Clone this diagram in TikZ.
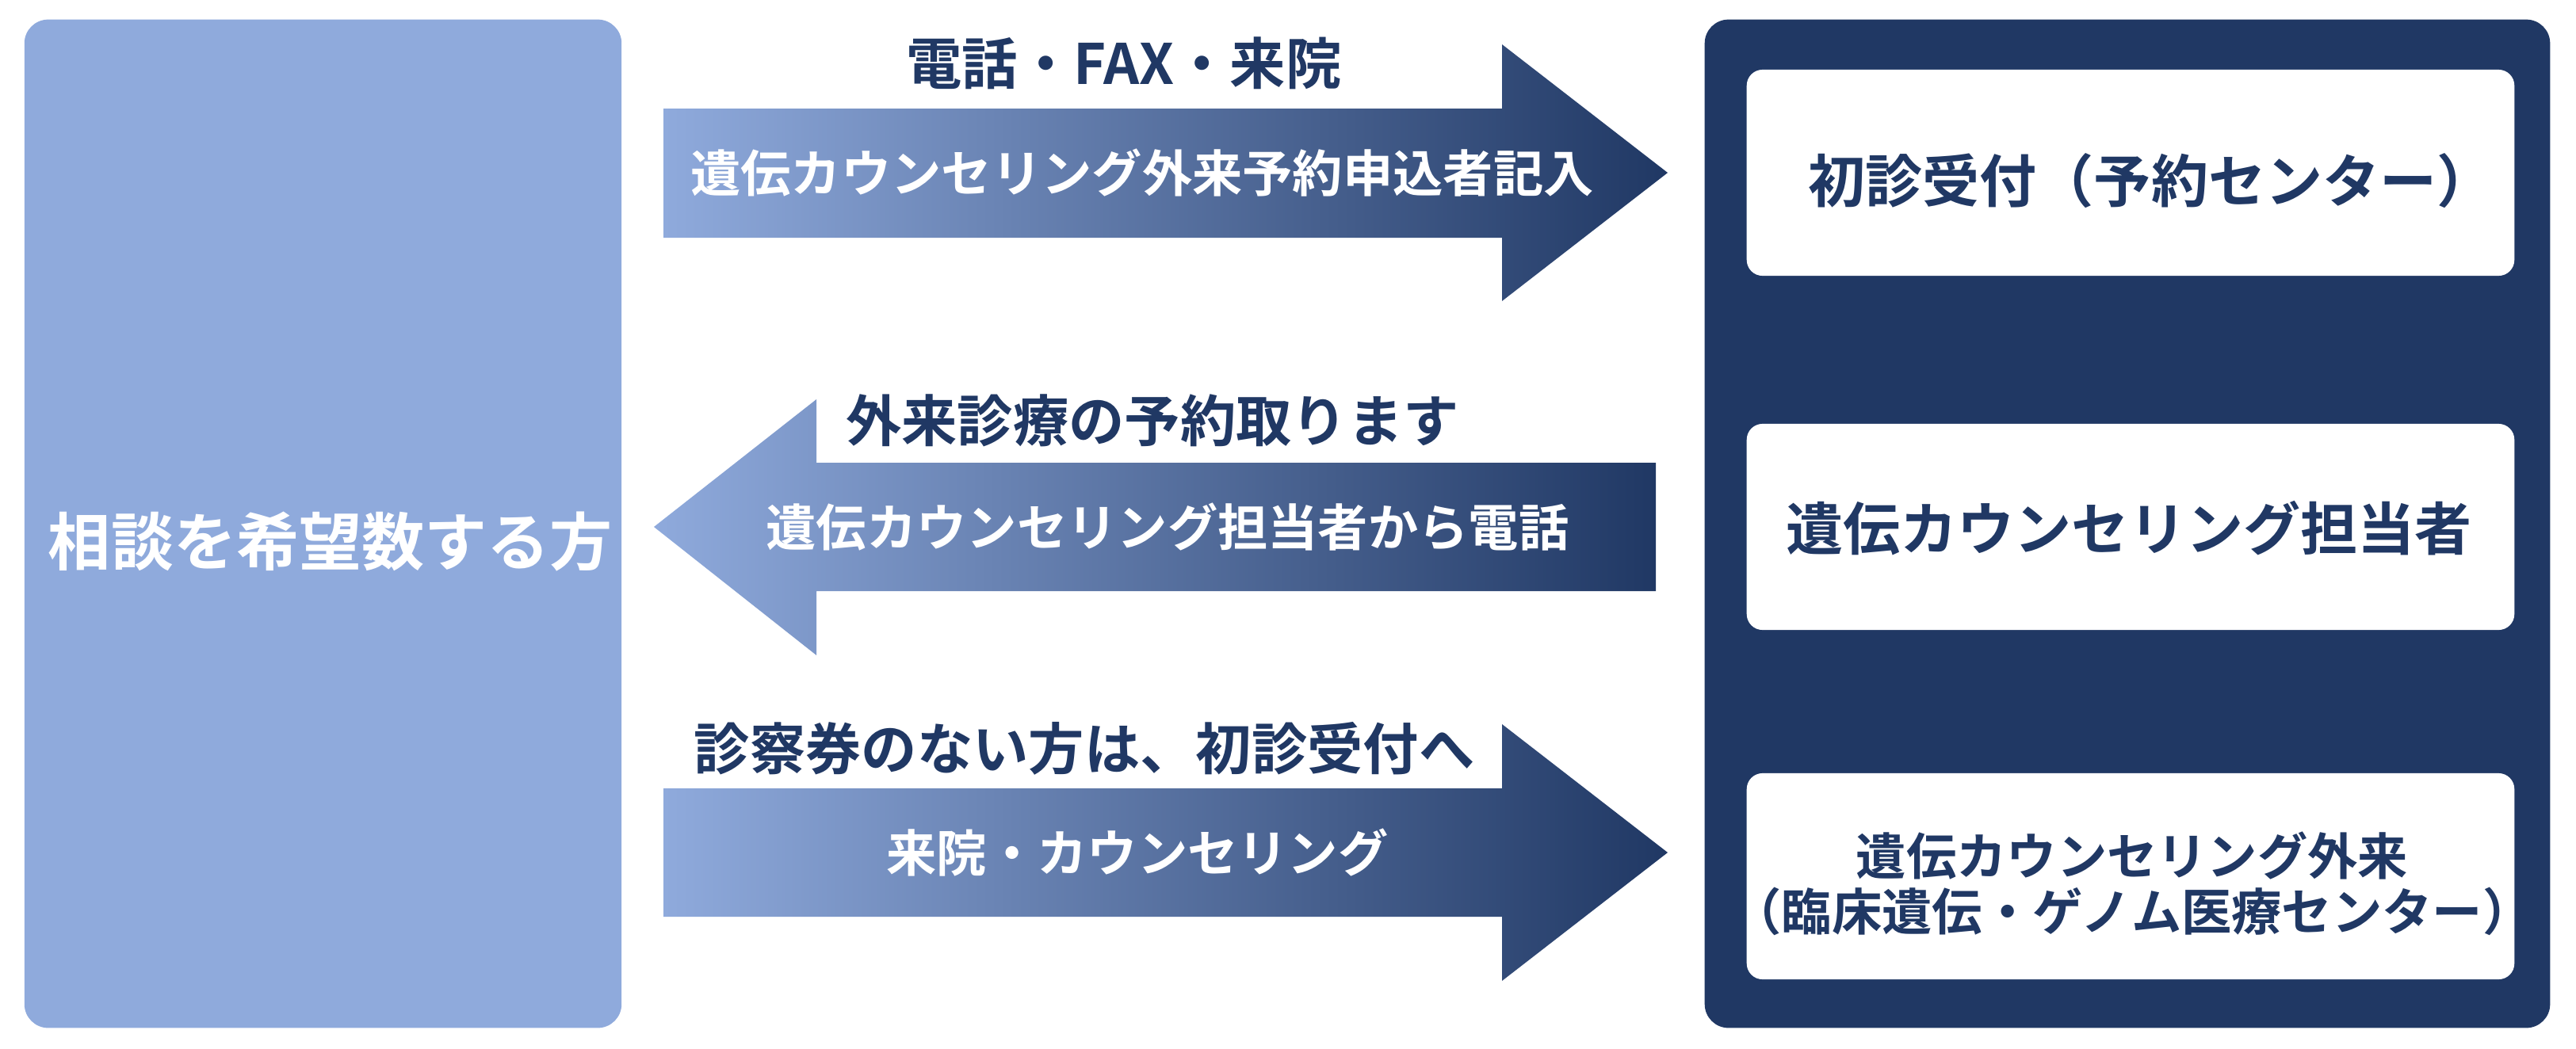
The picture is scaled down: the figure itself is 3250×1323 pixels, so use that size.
\documentclass[tikz,border=0pt]{standalone}
\usepackage{fontspec}
\newfontfamily\jpfont[BoldFont={Noto Sans CJK JP Bold}]{Noto Sans CJK JP}
\definecolor{paleblue}{HTML}{8FAADC}
\definecolor{navyblue}{HTML}{203864}

\tikzset{
    panel/.style={rounded corners=0.3cm, inner sep=0pt},
    whitebox/.style={fill=white, rounded corners=0.2cm, inner sep=0pt,
        minimum width=9.68cm, minimum height=2.6cm},
    flowarrow/.style={left color=paleblue, right color=navyblue},
    labeltext/.style={text=navyblue, inner sep=0pt,
        font=\jpfont\bfseries\fontsize{20}{24}\selectfont},
    arrowtext/.style={text=white, inner sep=0pt,
        font=\jpfont\bfseries\fontsize{18}{22}\selectfont},
    boxtext/.style={text=navyblue, inner sep=0pt, align=center,
        font=\jpfont\bfseries\fontsize{20.5}{24}\selectfont}
}

\begin{document}
\begin{tikzpicture}[x=0.01cm, y=-0.01cm]
    \useasboundingbox (0,0) rectangle (3250,1323);

    \node[panel, fill=paleblue, minimum width=7.53cm, minimum height=12.72cm] (client) at (407.5,661) {};
    \node[text=white, inner sep=0pt, font=\jpfont\bfseries\fontsize{22.5}{27}\selectfont] (clientlabel) at (417,684) {相談を希望数する方};

    \node[panel, fill=navyblue, minimum width=10.66cm, minimum height=12.72cm] (clinic) at (2684,661) {};
    \node[whitebox] (reception) at (2688,218) {};
    \node[whitebox] (counselor) at (2688,665) {};
    \node[whitebox] (outpatient) at (2688,1106) {};

    \node[boxtext] (receptionlabel) at (2714,228) {初診受付（予約センター）};
    \node[boxtext] (counselorlabel) at (2686,667) {遺伝カウンセリング担当者};
    \node[boxtext, font=\jpfont\bfseries\fontsize{18}{20}\selectfont] (outpatientlabel) at (2690,1115)
        {遺伝カウンセリング外来\\（臨床遺伝・ゲノム医療センター）};

    \shade[flowarrow] (837,137) -- (1895,137) -- (1895,56) -- (2104,218)
        -- (1895,380) -- (1895,300) -- (837,300) -- cycle;
    \shade[flowarrow] (2089,584) -- (1030,584) -- (1030,504) -- (825,665)
        -- (1030,827) -- (1030,746) -- (2089,746) -- cycle;
    \shade[flowarrow] (837,995) -- (1895,995) -- (1895,914) -- (2104,1076)
        -- (1895,1238) -- (1895,1157) -- (837,1157) -- cycle;

    \node[labeltext] (contact) at (1418,80) {電話・FAX・来院};
    \node[arrowtext] (apply) at (1441,218) {遺伝カウンセリング外来予約申込者記入};
    \node[labeltext] (booking) at (1454,531) {外来診療の予約取ります};
    \node[arrowtext] (callback) at (1473,665) {遺伝カウンセリング担当者から電話};
    \node[labeltext] (nocard) at (1368,945) {診察券のない方は、初診受付へ};
    \node[arrowtext] (visit) at (1435,1076) {来院・カウンセリング};
\end{tikzpicture}
\end{document}
